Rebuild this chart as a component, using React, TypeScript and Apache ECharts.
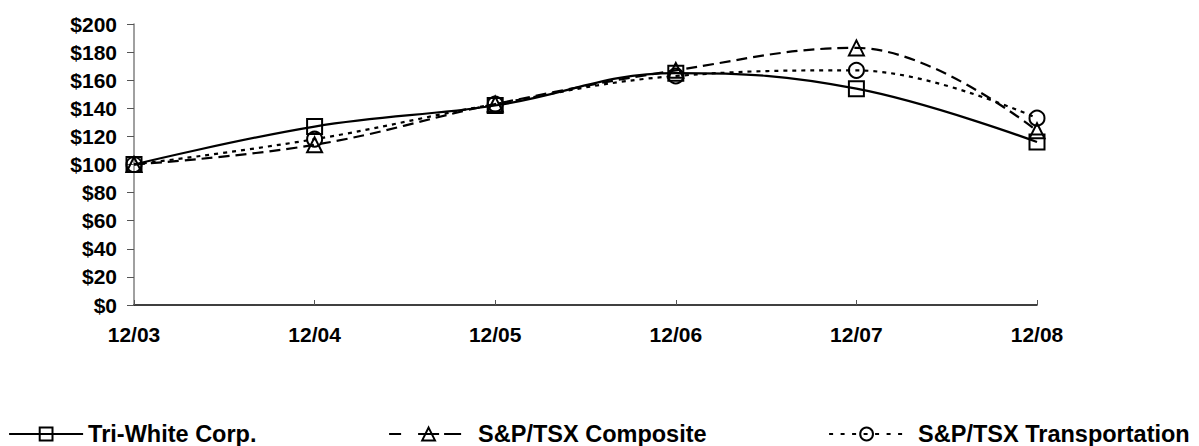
import React, { useEffect, useRef } from "react";
import * as echarts from "echarts";

const categories = ["12/03", "12/04", "12/05", "12/06", "12/07", "12/08"];
const triWhite = [100, 127, 142, 165, 154, 116];
const composite = [100, 114, 143, 167, 183, 124];
const transportation = [100, 118, 143, 163, 167, 133];
const yTicks = [0, 20, 40, 60, 80, 100, 120, 140, 160, 180, 200];

const FONT = "'Liberation Sans', Arial, sans-serif";
const FS = 21;
const LFS = 23.5;

export default function App() {
  const ref = useRef<HTMLDivElement>(null);
  useEffect(() => {
    const chart = echarts.init(ref.current!, null, { renderer: "svg" });
    const itemStyle = { color: "rgba(255,255,255,0)", borderColor: "#000", borderWidth: 2 };
    const legendBase = {
      top: 422,
      itemHeight: 16,
      itemGap: 0,
      padding: 0,
    };
    const lt = (pad: number) => ({
      fontFamily: FONT,
      fontSize: LFS,
      fontWeight: "bold",
      color: "#000",
      padding: [0, 0, 0, pad],
    });
    chart.setOption({
      animation: false,
      backgroundColor: "#fff",
      grid: { left: 134, right: 162, top: 24, bottom: 141 },
      legend: [
        {
          ...legendBase,
          left: 8,
          itemWidth: 74,
          textStyle: lt(0),
          lineStyle: { type: "solid", width: 2.2 },
          data: ["Tri-White Corp."],
        },
        {
          ...legendBase,
          left: 388,
          itemWidth: 79,
          textStyle: lt(5),
          lineStyle: { type: [12, 17, 21, 5, 17, 100], width: 2.2 },
          data: ["S&P/TSX Composite"],
        },
        {
          ...legendBase,
          left: 828,
          itemWidth: 75,
          textStyle: lt(9),
          lineStyle: { type: [4, 7.5], width: 2.2 },
          data: ["S&P/TSX Transportation"],
        },
      ],
      xAxis: {
        type: "category",
        data: categories,
        boundaryGap: false,
        axisLine: { lineStyle: { color: "#000", width: 1.5 } },
        axisTick: { inside: true, length: 5, lineStyle: { color: "#555" } },
        axisLabel: { margin: 19, fontFamily: FONT, fontSize: FS, fontWeight: "bold", color: "#000" },
        splitLine: { show: false },
      },
      yAxis: {
        type: "value",
        min: yTicks[0],
        max: yTicks[yTicks.length - 1],
        interval: 20,
        axisLine: { show: true, lineStyle: { color: "#808080", width: 1.5 } },
        axisTick: { show: true, length: 7, lineStyle: { color: "#555" } },
        axisLabel: {
          margin: 17,
          fontFamily: FONT,
          fontSize: FS,
          fontWeight: "bold",
          color: "#000",
          formatter: (v: number) => "$" + v,
        },
        splitLine: { show: false },
      },
      series: [
        {
          name: "Tri-White Corp.",
          type: "line",
          data: triWhite,
          smooth: 0.4,
          symbol: "rect",
          symbolSize: 15,
          lineStyle: { color: "#000", width: 2.2, type: "solid" },
          itemStyle,
          z: 3,
        },
        {
          name: "S&P/TSX Composite",
          type: "line",
          data: composite,
          smooth: 0.4,
          symbol: "triangle",
          symbolSize: 15,
          lineStyle: { color: "#000", width: 2.2, type: [11, 6] },
          itemStyle,
          z: 2,
        },
        {
          name: "S&P/TSX Transportation",
          type: "line",
          data: transportation,
          smooth: 0.4,
          symbol: "circle",
          symbolSize: 15,
          lineStyle: { color: "#000", width: 2.2, type: [4, 5] },
          itemStyle,
          z: 1,
        },
      ],
    });
    return () => chart.dispose();
  }, []);
  return (
    <div
      ref={ref}
      style={{ position: "fixed", left: 0, top: 0, width: 1199, height: 446 }}
    />
  );
}
